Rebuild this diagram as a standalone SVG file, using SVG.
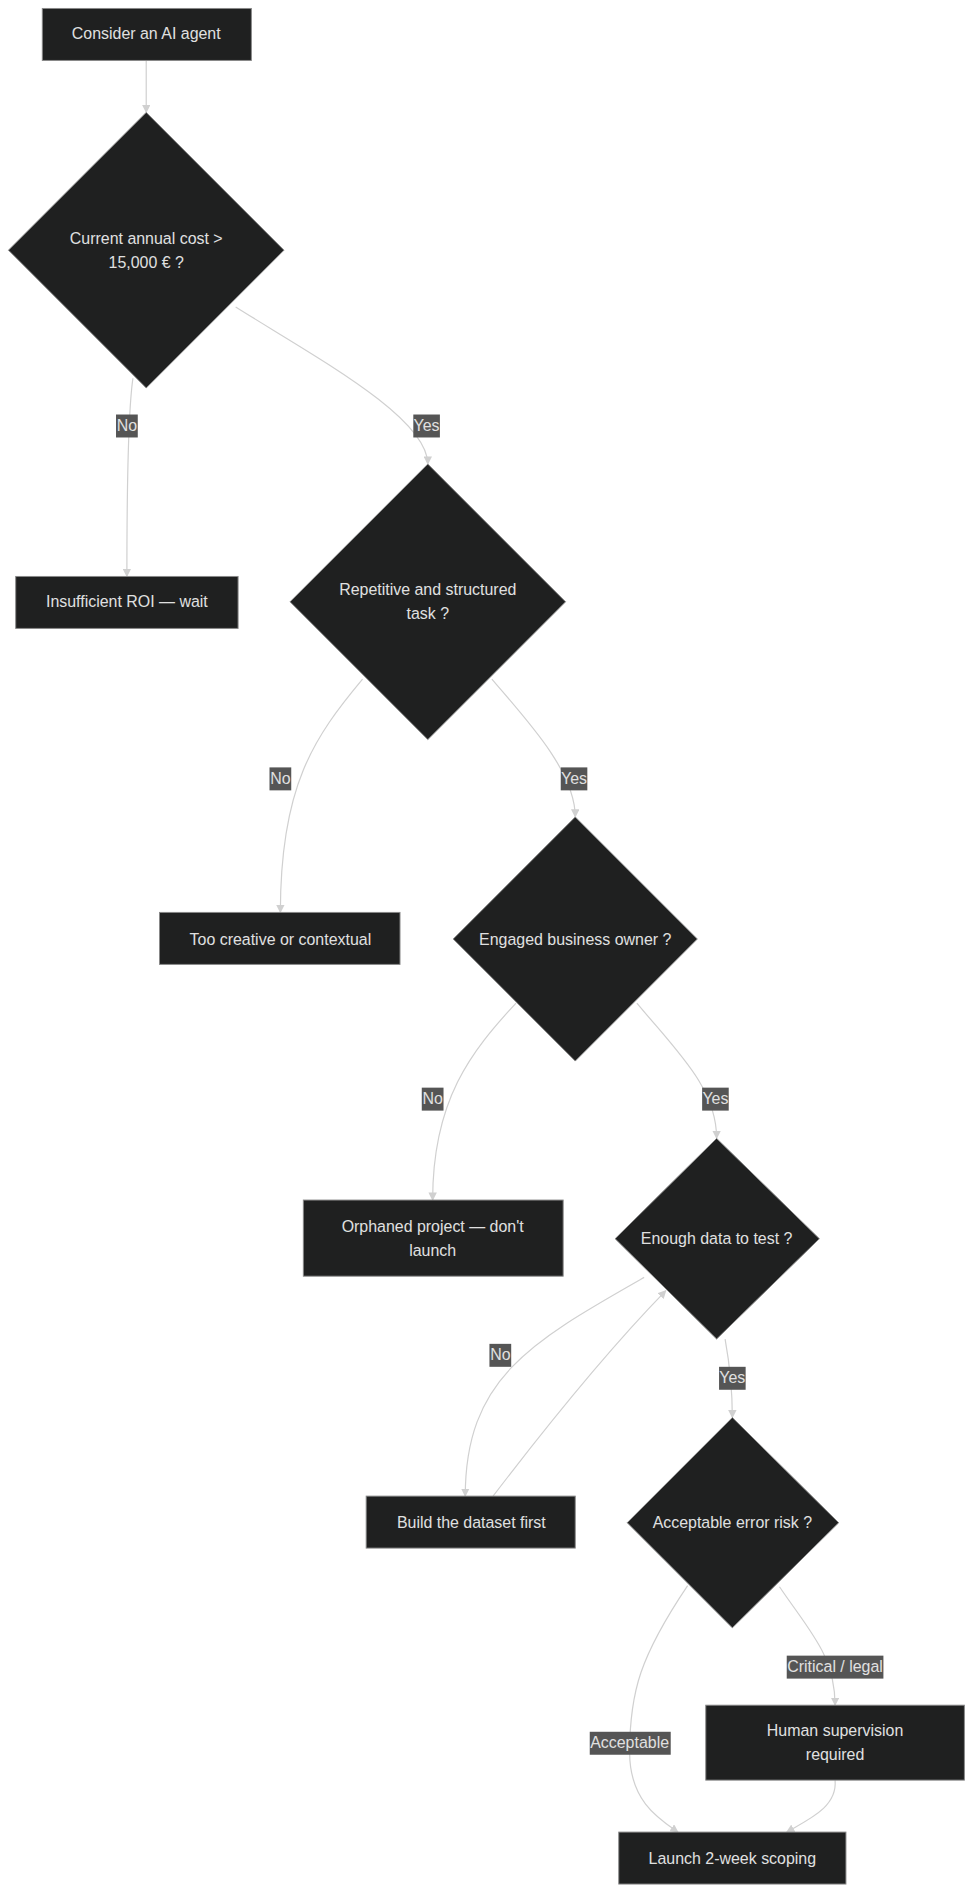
<svg xmlns="http://www.w3.org/2000/svg" width="974" height="1896" viewBox="0 0 974 1896">
<style>
.n{fill:#1f2020;stroke:#888;stroke-width:0.8}
.t{font-family:"Liberation Sans",Arial,sans-serif;font-size:13.2px;fill:#e0e0e0;text-anchor:middle;dominant-baseline:central}
.e{fill:none;stroke:#d0d0d0;stroke-width:1;marker-end:url(#a)}
.lb{fill:#555}
.lt{font-family:"Liberation Sans",Arial,sans-serif;font-size:13.2px;fill:#e0e0e0;text-anchor:middle;dominant-baseline:central}
</style>
<defs><marker id="a" viewBox="0 0 10 10" refX="9" refY="5" markerWidth="7" markerHeight="7" orient="auto"><path d="M0,0L10,5L0,10z" fill="#d0d0d0"/></marker></defs>
<rect width="974" height="1896" fill="#fff"/>
<g transform="scale(1.2085)">
<g id="edges">
<path class="e" d="M121,50L121,93"/>
<path class="e" d="M110,313C106,340 105,400 105,477"/>
<path class="e" d="M195,254C260,295 354,345 354,384"/>
<path class="e" d="M300,562C260,610 232,650 232,755"/>
<path class="e" d="M407,562C440,600 476,640 476,676"/>
<path class="e" d="M427,830C390,870 358,910 358,993"/>
<path class="e" d="M527,830C560,870 593,900 593,942"/>
<path class="e" d="M533,1057C440,1110 385,1140 385,1238"/>
<path class="e" d="M408,1238C460,1170 510,1110 551,1068"/>
<path class="e" d="M600,1108C604,1130 606,1150 606,1173"/>
<path class="e" d="M645,1313C670,1350 691,1370 691,1411"/>
<path class="e" d="M569,1312C530,1370 521,1400 521,1450C521,1490 545,1505 561,1516"/>
<path class="e" d="M691,1473C693,1495 670,1505 651,1516"/>
<g>
<rect class="lb" x="96" y="343" width="18" height="19"/><text class="lt" x="105" y="352">No</text>
<rect class="lb" x="342" y="343" width="22" height="19"/><text class="lt" x="353" y="352">Yes</text>
<rect class="lb" x="223" y="635" width="18" height="19"/><text class="lt" x="232" y="644">No</text>
<rect class="lb" x="464" y="635" width="22" height="19"/><text class="lt" x="475" y="644">Yes</text>
<rect class="lb" x="349" y="900" width="18" height="19"/><text class="lt" x="358" y="909">No</text>
<rect class="lb" x="581" y="900" width="22" height="19"/><text class="lt" x="592" y="909">Yes</text>
<rect class="lb" x="405" y="1112" width="18" height="19"/><text class="lt" x="414" y="1121">No</text>
<rect class="lb" x="595" y="1131" width="22" height="19"/><text class="lt" x="606" y="1140">Yes</text>
<rect class="lb" x="651" y="1370" width="80" height="19"/><text class="lt" x="691" y="1379">Critical / legal</text>
<rect class="lb" x="488" y="1433" width="67" height="19"/><text class="lt" x="521" y="1442">Acceptable</text>
</g>
</g>
<g id="n1"><rect class="n" x="35" y="7" width="173" height="43"/><text class="t" x="121" y="28">Consider an AI agent</text></g>
<g id="d1"><path class="n" d="M121,93L235,207L121,321L7,207z"/><text class="t" x="121" y="197">Current annual cost &gt;</text><text class="t" x="121" y="217">15,000 € ?</text></g>
<g id="n2"><rect class="n" x="13" y="477" width="184" height="43"/><text class="t" x="105" y="498">Insufficient ROI — wait</text></g>
<g id="d2"><path class="n" d="M354,384L468,498L354,612L240,498z"/><text class="t" x="354" y="488">Repetitive and structured</text><text class="t" x="354" y="508">task ?</text></g>
<g id="n3"><rect class="n" x="132" y="755" width="199" height="43"/><text class="t" x="232" y="777">Too creative or contextual</text></g>
<g id="d3"><path class="n" d="M476,676L577,777L476,878L375,777z"/><text class="t" x="476" y="777">Engaged business owner ?</text></g>
<g id="n4"><rect class="n" x="251" y="993" width="215" height="63"/><text class="t" x="358" y="1015">Orphaned project — don't</text><text class="t" x="358" y="1035">launch</text></g>
<g id="d4"><path class="n" d="M593,942L678,1025L593,1108L509,1025z"/><text class="t" x="593" y="1025">Enough data to test ?</text></g>
<g id="n5"><rect class="n" x="303" y="1238" width="173" height="43"/><text class="t" x="390" y="1260">Build the dataset first</text></g>
<g id="d5"><path class="n" d="M606,1173L694,1260L606,1347L519,1260z"/><text class="t" x="606" y="1260">Acceptable error risk ?</text></g>
<g id="n6"><rect class="n" x="584" y="1411" width="214" height="62"/><text class="t" x="691" y="1432">Human supervision</text><text class="t" x="691" y="1452">required</text></g>
<g id="n7"><rect class="n" x="512" y="1516" width="188" height="43"/><text class="t" x="606" y="1538">Launch 2-week scoping</text></g>
</g>
</svg>
